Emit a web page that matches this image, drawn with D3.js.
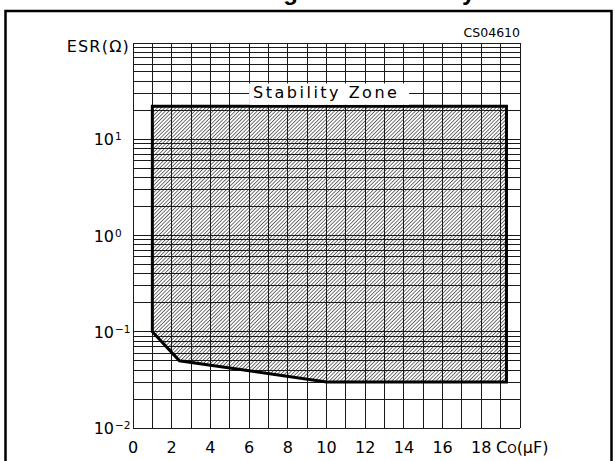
<!DOCTYPE html>
<meta charset="utf-8">
<style>
	body { margin: 0; background: #fff; }
	text { font-family: "DejaVu Sans", sans-serif; fill: #000; }
</style>
<svg width="615" height="461"></svg>

<script src="https://d3js.org/d3.v7.min.js"></script>

<script>

	// x ticks (Co, uF) and y decades (ESR, ohm)
	var xTicks = [0, 2, 4, 6, 8, 10, 12, 14, 16, 18];
	var xGrid = d3.range(0, 21);
	var yDecades = [-2, -1, 0, 1];
	var yMantissa = [1, 2, 3, 4, 5, 6, 7, 8, 9];

	// stability zone outline
	var zoneCo  = [1, 19.3, 19.3, 10, 2.4, 1];
	var zoneEsr = [22, 22, 0.03, 0.03, 0.05, 0.1];

	var svg = d3.select("svg");

	var x = d3.scaleLinear().domain([0, 20]).range([133, 520]),
		y = d3.scaleLog().domain([0.01, 100]).range([428, 43]);

	// hatch pattern
	var defs = svg.append("defs");
	defs.append("pattern")
		.attr("id", "hatch")
		.attr("patternUnits", "userSpaceOnUse")
		.attr("width", 2.6)
		.attr("height", 2.6)
		.attr("patternTransform", "rotate(45)")
		.append("line")
		.attr("x1", 0).attr("y1", 0)
		.attr("x2", 0).attr("y2", 2.6)
		.attr("stroke", "#000")
		.attr("stroke-width", 1.1);

	// outer frame
	svg.append("rect")
		.attr("x", 5.5).attr("y", 11)
		.attr("width", 606).attr("height", 470)
		.attr("fill", "none")
		.attr("stroke", "#000")
		.attr("stroke-width", 2.5);

	//TITLE (mostly cut off at the top)
	svg.append("text")
		.attr("x", 262)
		.attr("y", 0)
		.style("font-family", "'Liberation Sans', Arial, sans-serif")
		.style("font-weight", "bold")
		.style("font-size", "24px")
		.text("Figure 12. Stability zone");

	var zone = zoneCo.map(function(c, i) { return [c, zoneEsr[i]]; });
	var line = d3.line()
		.x(function(d) { return x(d[0]); })
		.y(function(d) { return y(d[1]); });

	svg.append("path")
		.attr("d", line(zone) + "Z")
		.attr("fill", "url(#hatch)")
		.attr("stroke", "none");

	// GRID
	var yGrid = [];
	yDecades.forEach(function(e) {
		yMantissa.forEach(function(m) { yGrid.push(m * Math.pow(10, e)); });
	});
	yGrid.push(100);

	var grid = svg.append("g")
		.attr("stroke", "#1a1a1a")
		.attr("stroke-width", 1)
		.attr("shape-rendering", "crispEdges");

	grid.selectAll(".vline")
		.data(xGrid)
		.enter().append("line")
		.attr("class", "vline")
		.attr("x1", function(d) { return x(d); })
		.attr("x2", function(d) { return x(d); })
		.attr("y1", y(100))
		.attr("y2", y(0.01));

	grid.selectAll(".hline")
		.data(yGrid)
		.enter().append("line")
		.attr("class", "hline")
		.attr("x1", x(0))
		.attr("x2", x(20))
		.attr("y1", function(d) { return y(d); })
		.attr("y2", function(d) { return y(d); });

	// zone border
	svg.append("path")
		.attr("d", line(zone) + "Z")
		.attr("fill", "none")
		.attr("stroke", "#000")
		.attr("stroke-width", 3)
		.attr("stroke-linejoin", "miter");

	// zone label
	svg.append("rect")
		.attr("x", x(6))
		.attr("y", 83.5)
		.attr("width", 160)
		.attr("height", y(22) - 85)
		.attr("fill", "#fff");

	svg.append("text")
		.attr("x", x(6) + 4)
		.attr("y", 98)
		.style("font-size", "16px")
		.style("letter-spacing", "2.5px")
		.text("Stability Zone");

	// X LABELS
	svg.selectAll(".xlab")
		.data(xTicks)
		.enter().append("text")
		.attr("class", "xlab")
		.attr("x", function(d) { return x(d); })
		.attr("y", 453)
		.attr("text-anchor", "middle")
		.style("font-size", "16px")
		.text(function(d) { return d; });

	var co = svg.append("text")
		.attr("x", 496)
		.attr("y", 453)
		.style("font-size", "16px");
	co.append("tspan").text("C");
	co.append("tspan").style("font-size", "12px").text("O");
	co.append("tspan").text("(\u03bcF)");

	// Y LABELS
	var ylab = svg.selectAll(".ylab")
		.data(yDecades)
		.enter().append("g")
		.attr("class", "ylab");

	ylab.append("text")
		.attr("x", 114)
		.attr("y", function(d) { return y(Math.pow(10, d)) + 6; })
		.attr("text-anchor", "end")
		.style("font-size", "16px")
		.text("10");

	ylab.append("text")
		.attr("x", 115)
		.attr("y", function(d) { return y(Math.pow(10, d)) + 1; })
		.style("font-size", "10.5px")
		.text(function(d) { return d < 0 ? "\u2212" + (-d) : d; });

	svg.append("text")
		.attr("x", 130)
		.attr("y", 52)
		.attr("text-anchor", "end")
		.style("font-size", "16px")
		.style("letter-spacing", "1.2px")
		.text("ESR(\u03a9)");

	svg.append("text")
		.attr("x", 520)
		.attr("y", 37)
		.attr("text-anchor", "end")
		.style("font-size", "12.5px")
		.text("CS04610");

</script>
